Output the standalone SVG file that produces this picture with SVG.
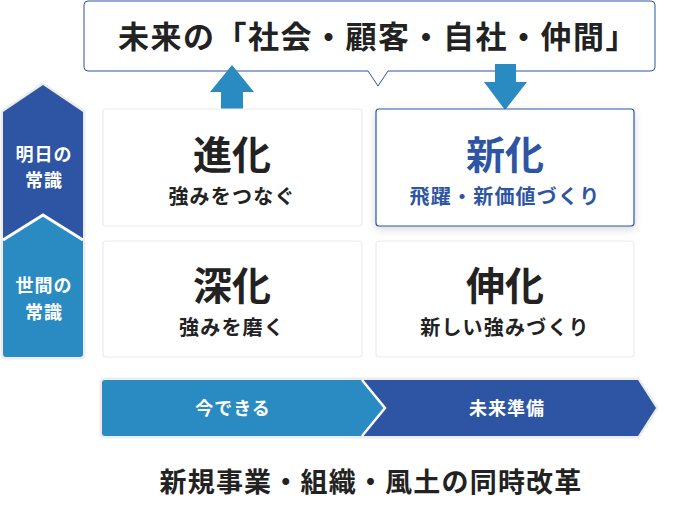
<svg xmlns="http://www.w3.org/2000/svg" width="678" height="505" viewBox="0 0 678 505">
<defs>
<style>
text{font-family:"Noto Sans CJK JP","Noto Sans",sans-serif;font-weight:700;text-anchor:middle}
.cell{fill:#fff;stroke:#ececec;stroke-width:1.2}
.big{font-size:39px;fill:#222}
.sub{font-size:20px;fill:#222;letter-spacing:1.2px}
.side{font-size:18px;fill:#fff;letter-spacing:1px}
.bar{font-size:18px;fill:#fff;letter-spacing:1px}
.lb{fill:#2a8bc3}
.db{fill:#2d55a3}
</style>
<filter id="sh" x="-10%" y="-10%" width="120%" height="130%">
<feDropShadow dx="0" dy="3" stdDeviation="4" flood-color="#000" flood-opacity="0.15"/>
</filter>
</defs>
<rect width="678" height="505" fill="#fff"/>
<g id="callout">
<path d="M88,1 H651 Q655,1 655,5 V67 Q655,71 651,71 H388 L378,86 L368,71 H88 Q84,71 84,67 V5 Q84,1 88,1 Z" fill="#fff" stroke="#2d55a3" stroke-width="1"/>
<text x="378" y="48" style="font-size:31px;fill:#222;letter-spacing:1.5px">未来の「社会・顧客・自社・仲間」</text>
</g>
<g id="connectors">
<polygon class="lb" points="232,65 254,92 243,92 243,110 221,110 221,92 210,92"/>
<polygon class="lb" points="495,64 516,64 516,82 527,82 505,110 484,82 495,82"/>
</g>
<g id="side-arrows">
<path d="M43,85 L83,112 V354 Q83,357 80,357 H6 Q3,357 3,354 V112 Z" fill="none" stroke="#ececec" stroke-width="5" stroke-linejoin="round"/>
<path class="db" d="M43,85 L83,112 V245 H3 V112 Z"/>
<path class="lb" d="M43,215 L83,240 V354 Q83,357 80,357 H6 Q3,357 3,354 V240 Z"/>
<polyline points="3,240 43,215 83,240" fill="none" stroke="#fff" stroke-width="3"/>
<text class="side" x="44" y="161">明日の</text>
<text class="side" x="44" y="187">常識</text>
<text class="side" x="44" y="292">世間の</text>
<text class="side" x="44" y="319">常識</text>
</g>
<g id="cell-shinka1">
<rect class="cell" x="103" y="109" width="259" height="117" rx="3"/>
<text class="big" x="232" y="169">進化</text>
<text class="sub" x="232" y="204">強みをつなぐ</text>
</g>
<g id="cell-shinka2">
<rect x="376" y="109" width="258" height="117" rx="3" fill="#fff" stroke="#2d55a3" stroke-width="1.2" filter="url(#sh)"/>
<text class="big" x="505" y="169" style="fill:#2d55a3">新化</text>
<text class="sub" x="505" y="204" style="fill:#2d55a3">飛躍・新価値づくり</text>
</g>
<g id="cell-shinka3">
<rect class="cell" x="103" y="241" width="259" height="116" rx="3"/>
<text class="big" x="232" y="300">深化</text>
<text class="sub" x="232" y="335">強みを磨く</text>
</g>
<g id="cell-shinka4">
<rect class="cell" x="376" y="241" width="258" height="116" rx="3"/>
<text class="big" x="505" y="300">伸化</text>
<text class="sub" x="505" y="335">新しい強みづくり</text>
</g>
<g id="bottom-bar">
<path d="M105,380 H638 L656,408 L638,436 H105 Q102,436 102,433 V383 Q102,380 105,380 Z" fill="none" stroke="#ececec" stroke-width="5" stroke-linejoin="round"/>
<polygon class="db" points="358,380 638,380 656,408 638,436 358,436"/>
<path class="lb" d="M105,380 H362 L385,408 L362,436 H105 Q102,436 102,433 V383 Q102,380 105,380 Z"/>
<polyline points="362,380 385,408 362,436" fill="none" stroke="#fff" stroke-width="2.5"/>
<text class="bar" x="233" y="415">今できる</text>
<text class="bar" x="507" y="415">未来準備</text>
</g>
<g id="footer">
<text x="371" y="492" style="font-size:27px;fill:#222;letter-spacing:1.2px">新規事業・組織・風土の同時改革</text>
</g>
</svg>
